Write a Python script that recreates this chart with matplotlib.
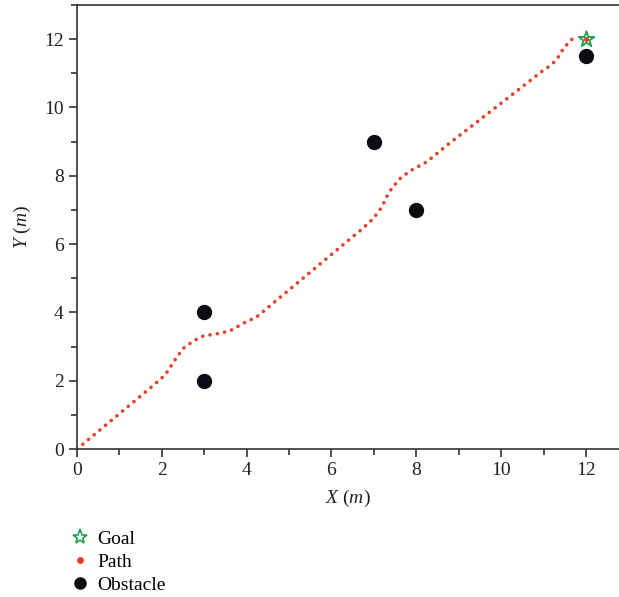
import matplotlib.pyplot as plt
from matplotlib.ticker import MultipleLocator

plt.rcParams['font.family'] = ['Liberation Serif', 'DejaVu Serif']
plt.rcParams['mathtext.fontset'] = 'custom'
plt.rcParams['mathtext.rm'] = 'Liberation Serif'
plt.rcParams['mathtext.it'] = 'Liberation Serif:italic'

# path (m)
path_x = [0.0, 1.76, 2.08, 2.31, 2.51, 2.74, 2.98, 3.29, 3.61, 3.92, 4.24, 4.73,
          6.71, 6.99, 7.19, 7.30, 7.42, 7.62, 7.85, 8.25, 8.76,
          10.72, 10.92, 11.2, 11.35, 11.47, 11.67]
path_y = [0.0, 1.82, 2.17, 2.61, 2.95, 3.16, 3.31, 3.37, 3.46, 3.68, 3.87, 4.38,
          6.43, 6.75, 7.09, 7.38, 7.63, 7.92, 8.14, 8.41, 8.93,
          10.82, 11.02, 11.26, 11.48, 11.73, 12.0]

obs_x = [3, 3, 7, 8, 12]
obs_y = [2, 4, 9, 7, 11.5]

goal_x = [12]
goal_y = [12]

red = '#e8402c'
green = '#1aa24a'
dark = '#0c0d14'
axcol = '#333333'

fig = plt.figure(figsize=(6.19, 5.97), dpi=100)
ax = fig.add_axes([0.1244, 0.2479, 0.8756, 0.7437])

ax.plot(path_x, path_y, color=red, lw=2.6, linestyle=(0, (0.05, 2.0)),
        dash_capstyle='round', zorder=2)
ax.scatter(obs_x, obs_y, s=100, color=dark, zorder=3)
ax.scatter(goal_x, goal_y, s=140, marker='*', facecolor='white',
           edgecolor=green, linewidths=1.3, zorder=4)
ax.scatter(goal_x, goal_y, s=7, color=red, zorder=5)

ax.set_xlim(0, 12.78)
ax.set_ylim(0, 13)
ax.xaxis.set_major_locator(MultipleLocator(2))
ax.xaxis.set_minor_locator(MultipleLocator(1))
ax.yaxis.set_major_locator(MultipleLocator(2))
ax.yaxis.set_minor_locator(MultipleLocator(1))
ax.tick_params(which='both', direction='out', colors=axcol, labelcolor='#222222',
               labelsize=14, width=1.2, top=False, right=False)
ax.tick_params(which='major', length=6)
ax.tick_params(which='minor', length=4)
for s in ['left', 'bottom', 'top']:
    ax.spines[s].set_color(axcol)
    ax.spines[s].set_linewidth(1.2)
ax.spines['right'].set_visible(False)

ax.set_xlabel(r'$X$ ($m$)', fontsize=14, color='#222222', labelpad=6)
ax.set_ylabel(r'$Y$ ($m$)', fontsize=14, color='#222222', labelpad=8)

h_goal = plt.Line2D([], [], linestyle='none', marker='*', markersize=11,
                    markerfacecolor='white', markeredgecolor=green, markeredgewidth=1.2)
h_path = plt.Line2D([], [], linestyle='none', marker='o', markersize=4,
                    color=red)
h_obs = plt.Line2D([], [], linestyle='none', marker='o', markersize=8,
                   color=dark)
fig.legend([h_goal, h_path, h_obs], ['Goal', 'Path', 'Obstacle'],
           loc='upper left', bbox_to_anchor=(0.116, 0.112), frameon=False,
           fontsize=14, handlelength=0.8, handletextpad=0.5,
           labelspacing=0.28, borderpad=0, borderaxespad=0)

fig.savefig('out.png', dpi=100)
